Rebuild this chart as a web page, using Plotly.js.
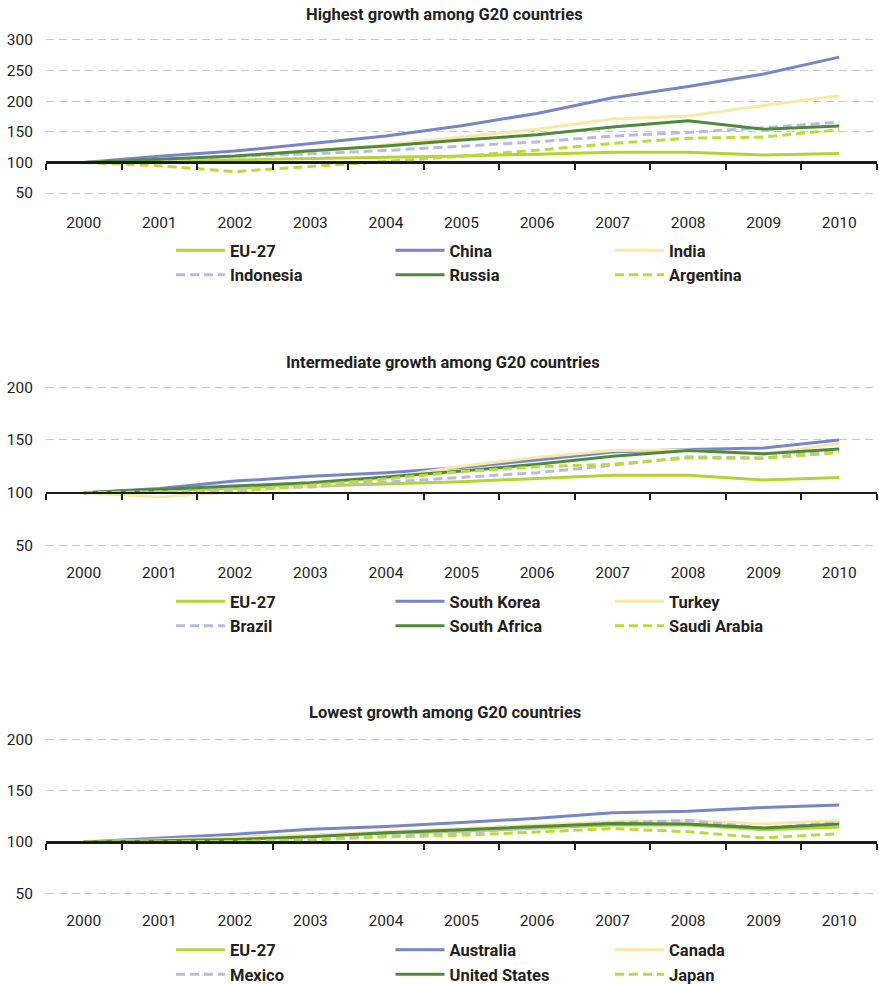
<!DOCTYPE html>
<html>
<head>
<meta charset="utf-8">
<script src="https://cdn.plot.ly/plotly-3.0.1.min.js"></script>
<style>
  html, body { margin: 0; padding: 0; background: #ffffff; }
  #chart { width: 879px; height: 984px; }
</style>
</head>
<body>
<div id="chart"></div>
<script>
// Index, 2000 = 100
const years = [2000, 2001, 2002, 2003, 2004, 2005, 2006, 2007, 2008, 2009, 2010];

const eu27        = [100, 102, 104, 106, 108, 110.5, 113.5, 116.5, 116.5, 112, 114.5];

// Highest growth
const china       = [100, 110, 118.5, 131, 143, 160, 180, 205.5, 224, 244.5, 272];
const india       = [100, 104, 110, 118, 129, 142, 154, 171, 176, 193, 209];
const indonesia   = [100, 104, 110, 114, 119.5, 127, 133.5, 143, 149, 156.5, 166];
const russia      = [100, 105, 110.5, 119, 127, 136.5, 145, 158, 168, 154, 159.5];
const argentina   = [100, 94.5, 85, 93, 101, 110, 120, 131, 139.5, 141.5, 153.5];

// Intermediate growth
const southKorea  = [100, 104, 111, 115.5, 119, 124, 131, 138.5, 141, 142.5, 150];
const turkey      = [100, 96, 101, 106, 114, 125, 133.5, 140, 140.5, 136, 147];
const brazil      = [100, 101, 104, 105.5, 110, 114.5, 119, 126, 134, 133, 140];
const southAfrica = [100, 103, 106.5, 109.5, 115, 120.5, 127, 134.5, 140, 137, 141.5];
const saudiArabia = [100, 100.5, 101.5, 107, 113, 120, 124.5, 127, 133, 132.5, 138];

// Lowest growth
const australia   = [100, 104, 107.5, 112.5, 115, 119, 123, 128.5, 130, 133.5, 136];
const canada      = [100, 102, 104, 106.5, 110, 113, 116.5, 120, 121, 117.5, 121];
const mexico      = [100, 100, 101, 102, 106, 109, 114, 118.5, 121, 113.5, 119];
const unitedStates= [100, 101, 102.5, 105, 109, 112, 115, 118, 117.5, 113.5, 117.5];
const japan       = [100, 100, 100.5, 102, 105, 106.5, 109.5, 113, 110, 104, 108];

const titles = [
  'Highest growth among G20 countries',
  'Intermediate growth among G20 countries',
  'Lowest growth among G20 countries'
];
const namesHigh = ['EU-27', 'China', 'India', 'Indonesia', 'Russia', 'Argentina'];
const namesMid  = ['EU-27', 'South Korea', 'Turkey', 'Brazil', 'South Africa', 'Saudi Arabia'];
const namesLow  = ['EU-27', 'Australia', 'Canada', 'Mexico', 'United States', 'Japan'];

const ticksHigh = [50, 100, 150, 200, 250, 300];
const ticksLow  = [50, 100, 150, 200];

// ---- presentation ----
const W = 879, H = 984;
const FONT = 'Roboto, "Noto Sans", "DejaVu Sans", sans-serif';
const INK = '#231f20';
const PLOT_LEFT = 46, PLOT_RIGHT = 877;
const LEGEND_COLS = [171, 390.5, 610];   // left edge of each legend column, px

// one style per series slot inside a panel
const slotStyles = [
  { color: '#b6d334', dash: 'solid' },
  { color: '#7786c6', dash: 'solid' },
  { color: '#f6eaa6', dash: 'solid' },
  { color: '#b6bce0', dash: '9px,5px' },
  { color: '#4f8a3c', dash: 'solid' },
  { color: '#bfd93a', dash: '9px,5px' }
];

const panels = [
  { title: titles[0], names: namesHigh,
    series: [eu27, china, india, indonesia, russia, argentina],
    yRange: [35, 305], yTicks: ticksHigh, top: 36.9, bottom: 202.2,
    titleX: 444.5, titleY: 14, legendMid: 262.5 },
  { title: titles[1], names: namesMid,
    series: [eu27, southKorea, turkey, brazil, southAfrica, saudiArabia],
    yRange: [43, 203], yTicks: ticksLow, top: 384.1, bottom: 552.8,
    titleX: 443, titleY: 362, legendMid: 613.5 },
  { title: titles[2], names: namesLow,
    series: [eu27, australia, canada, mexico, unitedStates, japan],
    yRange: [43, 203], yTicks: ticksLow, top: 736.2, bottom: 900.5,
    titleX: 445, titleY: 712, legendMid: 962 }
];

const BASE = 100;
const xRange = [years[0] - 0.5, years[years.length - 1] + 0.5];
const boundaries = years.map(y => y - 0.5).concat([years[years.length - 1] + 0.5]);
const xDomain = [PLOT_LEFT / W, PLOT_RIGHT / W];

const axName = (kind, n) => kind + 'axis' + (n === 1 ? '' : n);
const axRef  = (kind, n) => kind + (n === 1 ? '' : n);
const legName = n => 'legend' + (n === 1 ? '' : n);

const traces = [];
const layout = {
  width: W, height: H,
  margin: { l: 0, r: 0, t: 0, b: 0, pad: 0, autoexpand: false },
  paper_bgcolor: '#ffffff',
  plot_bgcolor: 'rgba(0,0,0,0)',
  font: { family: FONT, color: INK, size: 15 },
  showlegend: true,
  hovermode: false,
  annotations: []
};

panels.forEach((p, i) => {
  const xData = i * 2 + 1, xLine = i * 2 + 2, yN = i + 1;
  const yDomain = [1 - p.bottom / H, 1 - p.top / H];
  const basePos = yDomain[0] + (BASE - p.yRange[0]) / (p.yRange[1] - p.yRange[0]) * (yDomain[1] - yDomain[0]);

  // category labels along the bottom of the panel
  layout[axName('x', xData)] = {
    domain: xDomain, anchor: axRef('y', yN), range: xRange,
    tickmode: 'array', tickvals: years, ticktext: years.map(String),
    showline: false, showgrid: false, zeroline: false,
    ticks: 'outside', ticklen: 6, tickcolor: 'rgba(0,0,0,0)',
    tickfont: { size: 15.5, color: INK, family: FONT },
    fixedrange: true
  };
  // baseline axis drawn through the index value 100
  layout[axName('x', xLine)] = {
    overlaying: axRef('x', xData), anchor: 'free', position: basePos,
    range: xRange, tickmode: 'array', tickvals: boundaries,
    showticklabels: false, showgrid: false, zeroline: false,
    showline: true, linecolor: '#1b1b1b', linewidth: 2.6,
    ticks: 'outside', ticklen: 6, tickwidth: 2, tickcolor: '#1b1b1b',
    fixedrange: true
  };
  layout[axName('y', yN)] = {
    domain: yDomain, anchor: axRef('x', xData), range: p.yRange,
    tickmode: 'array', tickvals: p.yTicks,
    showgrid: true, gridcolor: '#c6c6c6', gridwidth: 1, griddash: '8px,5px',
    zeroline: false, showline: false,
    ticks: 'outside', ticklen: 9, tickcolor: 'rgba(0,0,0,0)',
    tickfont: { size: 15.5, color: INK, family: FONT },
    fixedrange: true
  };

  layout.annotations.push({
    text: p.title, xref: 'paper', yref: 'paper',
    x: p.titleX / W, y: 1 - p.titleY / H, xanchor: 'center', yanchor: 'middle',
    showarrow: false, font: { size: 16.5, color: INK, family: FONT, weight: 'bold' }
  });

  // one two-row legend per column
  LEGEND_COLS.forEach((colX, c) => {
    layout[legName(i * 3 + c + 1)] = {
      orientation: 'v', x: colX / W, xanchor: 'left', y: 1 - p.legendMid / H, yanchor: 'middle',
      itemwidth: 49, tracegroupgap: 0,
      bgcolor: 'rgba(0,0,0,0)', borderwidth: 0, traceorder: 'normal',
      font: { size: 16.5, color: INK, family: FONT, weight: 'bold' }
    };
  });

  // keeps the baseline axis attached to this panel's plot area
  traces.push({
    type: 'scatter', mode: 'lines', x: years, y: p.series[0],
    xaxis: axRef('x', xLine), yaxis: axRef('y', yN),
    line: { width: 0 }, opacity: 0, showlegend: false, hoverinfo: 'skip'
  });

  p.series.forEach((vals, s) => {
    const st = slotStyles[s];
    traces.push({
      type: 'scatter', mode: 'lines',
      x: years, y: vals, name: p.names[s],
      xaxis: axRef('x', xData), yaxis: axRef('y', yN),
      legend: legName(i * 3 + (s % 3) + 1),
      line: { color: st.color, width: 3, dash: st.dash },
      hoverinfo: 'skip'
    });
  });
});

Plotly.newPlot('chart', traces, layout, { staticPlot: true, displayModeBar: false });
</script>
</body>
</html>
